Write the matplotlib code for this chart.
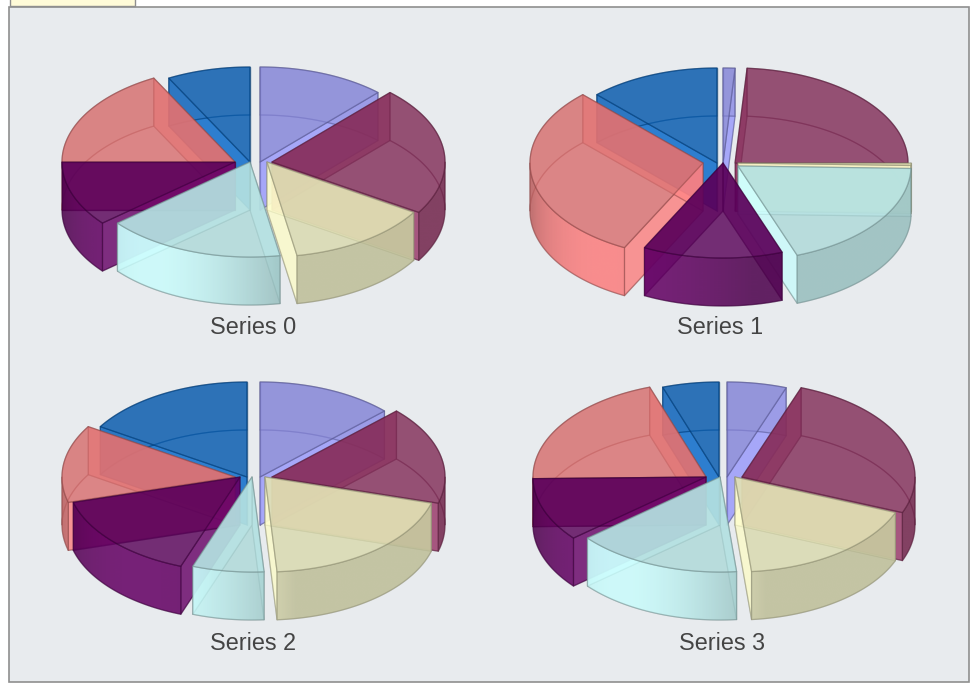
"""
Four exploded, see-through 3D pies on one grey panel.
"""

import numpy as np
import matplotlib
matplotlib.use("Agg")
import matplotlib.pyplot as plt
from matplotlib.colors import to_rgb
from matplotlib.patches import Polygon, Rectangle

plt.rcParams['font.family'] = ['Liberation Sans', 'DejaVu Sans']

# Slice sizes, clockwise from twelve o'clock (degrees of the full circle)
series_0 = [43, 79, 48, 60, 40, 62, 28]
series_1 = [4, 86, 1.5, 68.5, 47, 109, 44]
series_2 = [46, 60, 70, 24, 54.5, 47.5, 58]
series_3 = [20, 92, 62.5, 55.5, 39, 72, 19]

# Explode offset of each slice in pixels
explode_x_0 = [6, 18, 13, -4, -19, -19, -4]
explode_x_1 = [1, 13, 16, 16, 1, -19, -5]
explode_x_2 = [6, 18, 11, -2, -14, -19, -7]
explode_x_3 = [5, 20, 13, -2, -16, -16, -3]
explode_y_1 = [0, 0, 0, 3, 0, 0, 0]
no_explode_y = [0, 0, 0, 0, 0, 0, 0]

series_names = ['Series 0', 'Series 1', 'Series 2', 'Series 3']
slice_colors = ['#9999FF', '#993366', '#FFFFCC', '#CCFFFF', '#660066', '#FF8080', '#0066CC']

# Layout, in pixels of the 971x700 picture
RX, RY, DEPTH = 173, 95, 48
ALPHA = 0.72
FRONT_ALPHA = 0.8
UNDER_ALPHA = 0.3
TOP_SHADE = 0.85
centers = [(254, 162), (722, 163), (254, 477), (722, 477)]
label_pos = [(253, 327), (720, 327), (253, 642), (722, 642)]

draw_order = [0]


def next_z():
    draw_order[0] += 1
    return draw_order[0]


def rgba(color, shade=1.0, alpha=ALPHA):
    r, g, b = to_rgb(color)
    return (r * shade, g * shade, b * shade, alpha)


def arc_points(ax0, ay0, a0, a1):
    angles = np.radians(np.linspace(a0, a1, max(int(abs(a1 - a0)) * 2, 2) + 1))
    return np.column_stack([ax0 + RX * np.sin(angles), ay0 - RY * np.cos(angles)])


def add_face(ax, points, color, shade=1.0, fill=True, alpha=ALPHA, edge_alpha=0.5):
    edge = rgba(color, 0.55, edge_alpha)
    face = rgba(color, shade, alpha) if fill else 'none'
    patch = Polygon(points, closed=True, facecolor=face, edgecolor=edge,
                    linewidth=0.9, joinstyle='round', zorder=next_z())
    ax.add_patch(patch)
    return patch


def wall_shade(angle):
    # brightest on the lower left of the pie, flat elsewhere
    return 0.74 + 0.26 * np.maximum(0, np.cos(np.radians(2 * (angle - 215))))


def add_front_wall(ax, ax0, ay0, a0, a1, color):
    arc = arc_points(ax0, ay0, a0, a1)
    band = np.vstack([arc, (arc + [0, DEPTH])[::-1]])
    xmin, xmax = band[:, 0].min(), band[:, 0].max()
    ymin, ymax = band[:, 1].min(), band[:, 1].max()
    xs = np.linspace(xmin, xmax, 256)
    angle = 180 - np.degrees(np.arcsin(np.clip((xs - ax0) / RX, -1, 1)))
    shade = wall_shade(angle)
    base = np.array(to_rgb(color))
    img = np.ones((1, 256, 4))
    img[0, :, :3] = base[None, :] * shade[:, None]
    img[0, :, 3] = FRONT_ALPHA
    z = next_z()
    clip = Polygon(band, closed=True, facecolor='none', edgecolor='none',
                   transform=ax.transData)
    ax.add_patch(clip)
    im = ax.imshow(img, extent=(xmin, xmax, ymax, ymin), aspect='auto',
                   interpolation='bilinear', zorder=z)
    im.set_clip_path(clip)
    add_face(ax, band, color, fill=False)


def draw_slice(ax, cx, cy, a0, a1, color):
    top = np.vstack([[cx, cy], arc_points(cx, cy, a0, a1)])
    start = arc_points(cx, cy, a0, a0)[0]
    end = arc_points(cx, cy, a1, a1)[0]

    add_face(ax, top + [0, DEPTH], color, TOP_SHADE, alpha=UNDER_ALPHA, edge_alpha=0.3)

    # radial side faces
    for corner in (start, end):
        quad = np.array([[cx, cy], corner, corner + [0, DEPTH], [cx, cy + DEPTH]])
        add_face(ax, quad, color)

    # outer rim: back part flat, front part with the light gradient
    for lo, hi in ((a0, min(a1, 90)), (max(a0, 270), a1)):
        if hi > lo:
            arc = arc_points(cx, cy, lo, hi)
            add_face(ax, np.vstack([arc, (arc + [0, DEPTH])[::-1]]), color, 0.74,
                     alpha=UNDER_ALPHA)
    lo, hi = max(a0, 90), min(a1, 270)
    if hi > lo:
        add_front_wall(ax, cx, cy, lo, hi, color)

    add_face(ax, top, color, TOP_SHADE)


def draw_pie(ax, center, values, shift_x, shift_y):
    edges = np.concatenate([[0], np.cumsum(values)])
    mids = (edges[:-1] + edges[1:]) / 2
    # far slices first so the near ones lie over them
    for i in np.argsort(-np.cos(np.radians(mids))):
        draw_slice(ax, center[0] + shift_x[i], center[1] + shift_y[i],
                   edges[i], edges[i + 1], slice_colors[i])


fig = plt.figure(figsize=(9.71, 7.0), dpi=100, facecolor='white')
ax = fig.add_axes([0, 0, 1, 1])

# panel and the small legend tab above it
ax.add_patch(Rectangle((9, 7), 960, 675, facecolor='#E8EBEE', edgecolor='#8F8F8F',
                       linewidth=1.2, zorder=0))
ax.add_patch(Rectangle((10, -3), 125, 9, facecolor='#FFFBD8', edgecolor='#8F8F8F',
                       linewidth=1.0, zorder=0))

all_values = [series_0, series_1, series_2, series_3]
all_shift_x = [explode_x_0, explode_x_1, explode_x_2, explode_x_3]
all_shift_y = [no_explode_y, explode_y_1, no_explode_y, no_explode_y]

for k in range(4):
    draw_pie(ax, centers[k], all_values[k], all_shift_x[k], all_shift_y[k])
    ax.text(label_pos[k][0], label_pos[k][1] + 1, series_names[k], fontsize=16.8,
            color='#444444', ha='center', va='center', zorder=next_z())

ax.set_xlim(0, 971)
ax.set_ylim(700, 0)
ax.axis('off')

fig.savefig('out.png', dpi=100, facecolor='white')
